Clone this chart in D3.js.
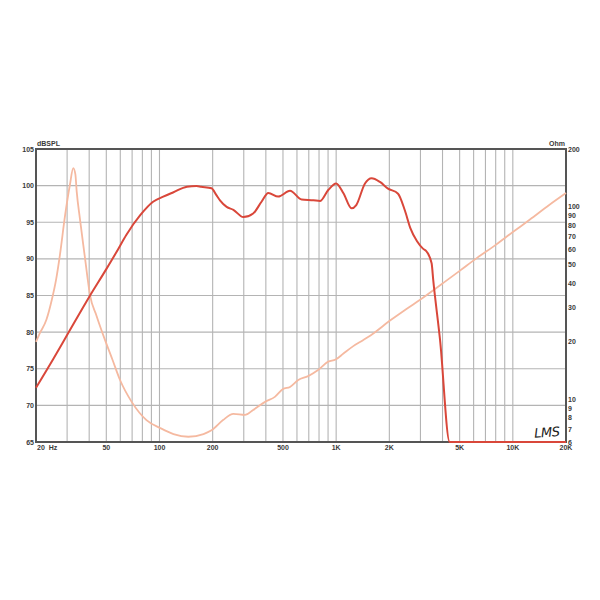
<!DOCTYPE html>
<html>
<head>
<meta charset="utf-8">
<script src="https://cdn.jsdelivr.net/npm/d3@7"></script>
<style>
  body { margin: 0; background: #fff; }
  svg { display: block; }
  .tick-label { font-family: "Liberation Sans", Arial, sans-serif; font-size: 7px; font-weight: bold; fill: #3a3a3a; }
</style>
</head>
<body>
<div id="chart"></div>
<script>
// SPL response (Hz, dB)
var splFreq = [20, 25, 30, 40, 50, 57, 65, 78, 92, 105, 120, 143, 162, 172, 197, 210, 220, 240, 262, 298, 339, 378, 413, 470, 548, 638, 744, 810, 902, 1000, 1100, 1222, 1300, 1456, 1588, 1770, 1966, 2240, 2450, 2630, 2870, 3100, 3250, 3470, 3545, 3875, 4390, 6000, 10000, 20000];
var splDb   = [72.4, 76.3, 79.6, 84.8, 88.6, 90.9, 93.3, 96.0, 97.8, 98.5, 99.1, 99.85, 99.95, 99.85, 99.65, 98.7, 98.0, 97.1, 96.7, 95.7, 96.2, 97.8, 99.0, 98.5, 99.3, 98.1, 98.0, 97.9, 99.4, 100.3, 98.95, 96.9, 97.35, 100.3, 101.0, 100.5, 99.6, 98.9, 96.6, 94.2, 92.4, 91.4, 91.0, 89.4, 87.1, 78.9, 65, 65, 65, 65];

// impedance (Hz, Ohm)
var impFreq = [20, 21, 22.9, 24.6, 26, 27.3, 29.2, 31.1, 32.5, 33.4, 34, 35.5, 37.9, 39, 40.4, 44, 49.2, 54, 59.8, 69.6, 84.4, 101.6, 120, 145.6, 177.5, 197, 229, 262, 305, 339, 396, 450, 500, 548, 610, 694, 790, 902, 993, 1100, 1250, 1420, 1600, 2000, 2500, 3000, 4000, 5000, 6300, 8000, 10000, 12500, 16000, 20000];
var impOhm  = [19.9, 22, 25.9, 33, 42, 56, 90, 130, 159, 148, 120, 86, 54, 44, 35, 27.2, 20.3, 16.2, 12.6, 9.7, 7.8, 7.07, 6.6, 6.39, 6.6, 6.9, 7.8, 8.4, 8.3, 8.8, 9.7, 10.3, 11.3, 11.6, 12.6, 13.2, 14.2, 15.7, 16.1, 17.3, 18.9, 20.3, 21.8, 25.5, 29.5, 33, 40, 46.5, 54.5, 63.5, 74, 86, 102, 118];

var xGrid = [30, 40, 50, 60, 70, 80, 90, 100, 200, 300, 400, 500, 600, 700, 800, 900, 1000, 2000, 3000, 4000, 5000, 6000, 7000, 8000, 9000, 10000];
var xLabelVals = [50, 100, 200, 500, 1000, 2000, 5000, 10000, 20000];
var xLabelText = ["50", "100", "200", "500", "1K", "2K", "5K", "10K", "20K"];
var dbTicks = [65, 70, 75, 80, 85, 90, 95, 100, 105];
var ohmTicks = [200, 100, 90, 80, 70, 60, 50, 40, 30, 20, 10, 9, 8, 7, 6];

var plotLeft = 36, plotRight = 566, plotTop = 149, plotBottom = 442;

var svg = d3.select("#chart").append("svg")
    .attr("width", 600)
    .attr("height", 600);

var x = d3.scaleLog().domain([20, 20000]).range([plotLeft, plotRight]);
var y = d3.scaleLinear().domain([65, 105]).range([plotBottom, plotTop]);
var yOhm = d3.scaleLog().domain([6, 200]).range([plotBottom, plotTop]);

// grid
svg.append("g").selectAll("line")
    .data(xGrid)
    .enter().append("line")
    .attr("x1", function(d) { return x(d); })
    .attr("x2", function(d) { return x(d); })
    .attr("y1", plotTop)
    .attr("y2", plotBottom)
    .attr("stroke", "#b4b4b4")
    .attr("stroke-width", 1.1);

svg.append("g").selectAll("line")
    .data(dbTicks.slice(1, -1))
    .enter().append("line")
    .attr("x1", plotLeft)
    .attr("x2", plotRight)
    .attr("y1", function(d) { return y(d); })
    .attr("y2", function(d) { return y(d); })
    .attr("stroke", "#b4b4b4")
    .attr("stroke-width", 1.1);

// frame
svg.append("rect")
    .attr("x", plotLeft)
    .attr("y", plotTop)
    .attr("width", plotRight - plotLeft)
    .attr("height", plotBottom - plotTop)
    .attr("fill", "none")
    .attr("stroke", "#555")
    .attr("stroke-width", 2);

// labels
svg.append("g").selectAll("text")
    .data(dbTicks)
    .enter().append("text")
    .attr("class", "tick-label")
    .attr("x", plotLeft - 2)
    .attr("y", function(d) { return y(d) + 2.5; })
    .attr("text-anchor", "end")
    .text(function(d) { return d; });

svg.append("g").selectAll("text")
    .data(ohmTicks)
    .enter().append("text")
    .attr("class", "tick-label")
    .attr("x", plotRight + 2)
    .attr("y", function(d) { return yOhm(d) + 2.5; })
    .text(function(d) { return d; });

svg.append("g").selectAll("text")
    .data(xLabelVals)
    .enter().append("text")
    .attr("class", "tick-label")
    .attr("x", function(d) { return x(d); })
    .attr("y", plotBottom + 8)
    .attr("text-anchor", "middle")
    .text(function(d, i) { return xLabelText[i]; });

svg.append("text")
    .attr("class", "tick-label")
    .attr("x", plotLeft + 1)
    .attr("y", plotBottom + 8)
    .attr("xml:space", "preserve")
    .text("20  Hz");

svg.append("text")
    .attr("class", "tick-label")
    .attr("x", plotLeft + 1)
    .attr("y", plotTop - 3)
    .text("dBSPL");

svg.append("text")
    .attr("class", "tick-label")
    .attr("x", plotRight - 1)
    .attr("y", plotTop - 3)
    .attr("text-anchor", "end")
    .text("Ohm");

// curves
var impLine = d3.line()
    .curve(d3.curveMonotoneX)
    .x(function(d) { return x(d[0]); })
    .y(function(d) { return yOhm(d[1]); });

var splLine = d3.line()
    .curve(d3.curveMonotoneX)
    .x(function(d) { return x(d[0]); })
    .y(function(d) { return y(d[1]); });

svg.append("path")
    .attr("d", impLine(d3.zip(impFreq, impOhm)))
    .attr("fill", "none")
    .attr("stroke", "#f5b9a0")
    .attr("stroke-width", 1.8)
    .attr("stroke-linejoin", "round");

svg.append("path")
    .attr("d", splLine(d3.zip(splFreq, splDb)))
    .attr("fill", "none")
    .attr("stroke", "#d9473a")
    .attr("stroke-width", 2)
    .attr("stroke-linejoin", "round");

// LMS mark
svg.append("text")
    .attr("x", 534)
    .attr("y", 437)
    .attr("font-family", "DejaVu Sans, sans-serif")
    .attr("font-size", 13)
    .attr("font-style", "italic")
    .attr("fill", "#222")
    .attr("transform", "rotate(-4,545,432)")
    .attr("textLength", 26)
    .text("LMS");
</script>
</body>
</html>
